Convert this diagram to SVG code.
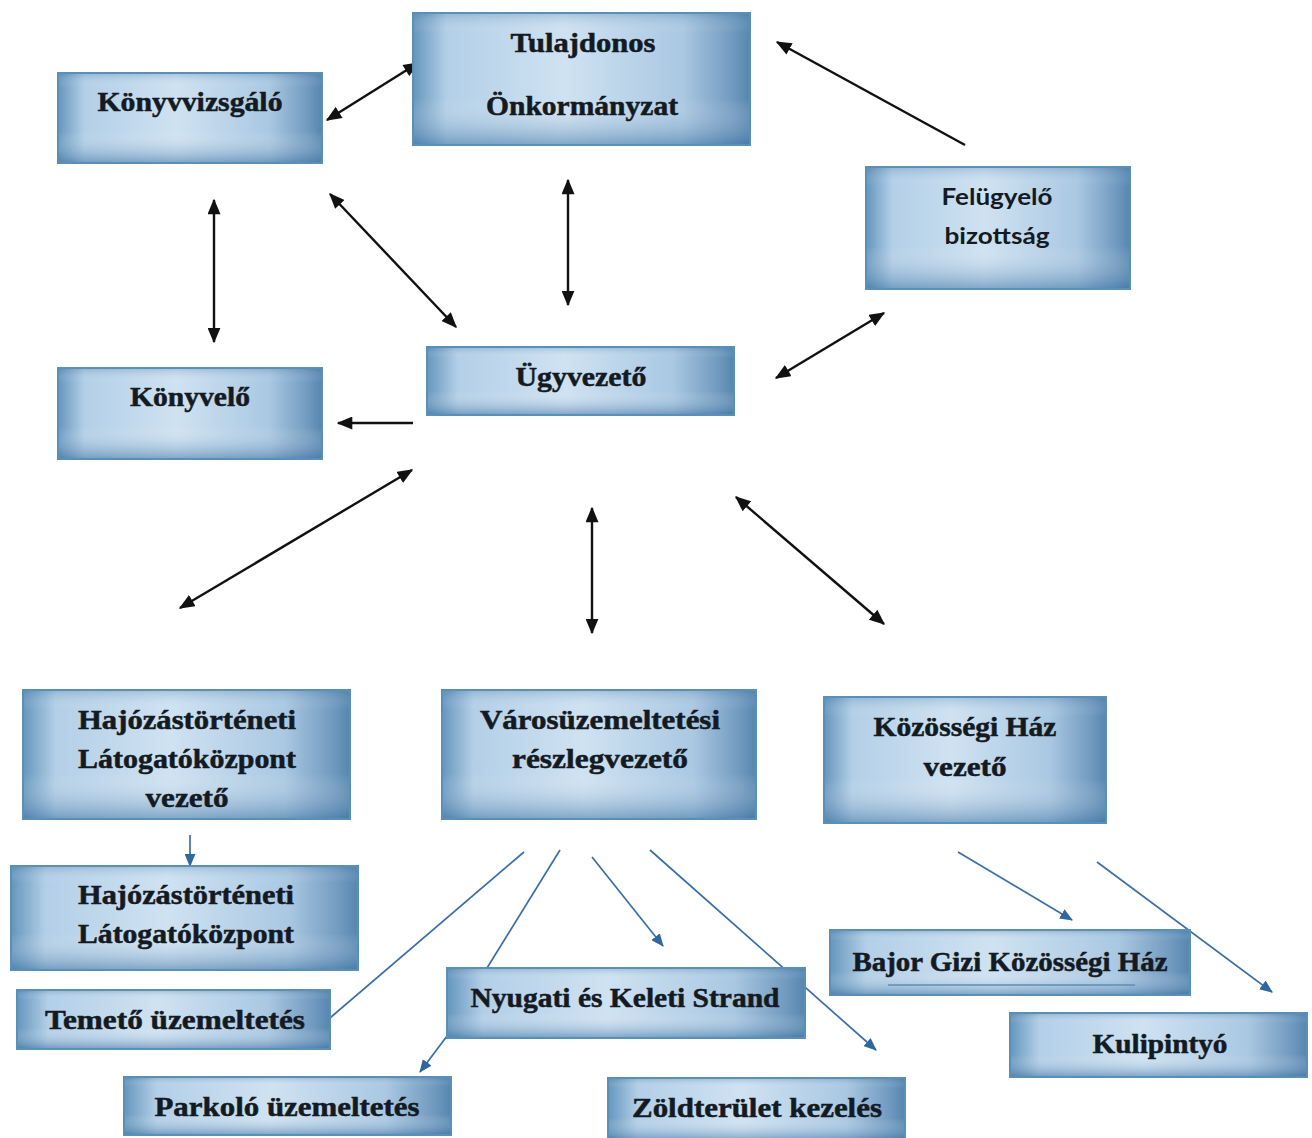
<svg xmlns="http://www.w3.org/2000/svg" width="1312" height="1138" viewBox="0 0 1312 1138">
<style>
.bx{stroke:#5a8fb8;stroke-width:2;fill:url(#gh)}
.sh{fill:url(#gv)}
.t{font-family:"Liberation Serif","DejaVu Serif",serif;font-weight:bold;font-size:27px;fill:#141a22;stroke:#141a22;stroke-width:0.5;text-anchor:middle}
.ts{font-family:Lato,"Open Sans","Liberation Sans",sans-serif;font-weight:bold;font-size:23px;fill:#141a22;text-anchor:middle}
.k{stroke:#111;stroke-width:2.4;fill:none}
.b{stroke:#3a6fa6;stroke-width:1.7;fill:none}
</style>
<defs>
<linearGradient id="gh" x1="0" y1="0" x2="1" y2="0">
<stop offset="0" stop-color="#6596bd"/>
<stop offset="0.1" stop-color="#b3cfe7"/>
<stop offset="0.45" stop-color="#cfe2f2"/>
<stop offset="0.8" stop-color="#aac8e2"/>
<stop offset="0.95" stop-color="#7099bf"/>
<stop offset="1" stop-color="#5586ae"/>
</linearGradient>
<linearGradient id="gv" x1="0" y1="0" x2="0" y2="1">
<stop offset="0" stop-color="#3f76a3" stop-opacity="0.25"/>
<stop offset="0.15" stop-color="#ffffff" stop-opacity="0"/>
<stop offset="0.65" stop-color="#ffffff" stop-opacity="0"/>
<stop offset="1" stop-color="#3a70a0" stop-opacity="0.5"/>
</linearGradient>
<marker id="ak" viewBox="0 0 12 10" refX="11" refY="5" markerWidth="16" markerHeight="13" markerUnits="userSpaceOnUse" orient="auto-start-reverse">
<path d="M0,0 L12,5 L0,10 z" fill="#111"/>
</marker>
<marker id="ab" viewBox="0 0 12 10" refX="11" refY="5" markerWidth="13" markerHeight="11" markerUnits="userSpaceOnUse" orient="auto">
<path d="M0,0 L12,5 L0,10 z" fill="#2f67a0"/>
</marker>
</defs>
<rect width="1312" height="1138" fill="#ffffff"/>
<g id="connectors">
<line class="k" x1="327" y1="120" x2="418" y2="63" marker-start="url(#ak)" marker-end="url(#ak)"/>
<line class="k" x1="965" y1="145" x2="777" y2="42" marker-end="url(#ak)"/>
<line class="k" x1="214" y1="200" x2="214" y2="342" marker-start="url(#ak)" marker-end="url(#ak)"/>
<line class="k" x1="330" y1="194" x2="456" y2="327" marker-start="url(#ak)" marker-end="url(#ak)"/>
<line class="k" x1="568" y1="180" x2="568" y2="305" marker-start="url(#ak)" marker-end="url(#ak)"/>
<line class="k" x1="776" y1="378" x2="884" y2="313" marker-start="url(#ak)" marker-end="url(#ak)"/>
<line class="k" x1="413" y1="423" x2="338" y2="423" marker-end="url(#ak)"/>
<line class="k" x1="412" y1="470" x2="180" y2="608" marker-start="url(#ak)" marker-end="url(#ak)"/>
<line class="k" x1="592" y1="508" x2="592" y2="633" marker-start="url(#ak)" marker-end="url(#ak)"/>
<line class="k" x1="736" y1="497" x2="884" y2="624" marker-start="url(#ak)" marker-end="url(#ak)"/>
<line class="b" x1="190" y1="835" x2="190" y2="866" marker-end="url(#ab)"/>
<line class="b" x1="524" y1="852" x2="330" y2="1018"/>
<line class="b" x1="560" y1="850" x2="487" y2="968"/>
<line class="b" x1="592" y1="857" x2="663" y2="946" marker-end="url(#ab)"/>
<line class="b" x1="650" y1="850" x2="876" y2="1050" marker-end="url(#ab)"/>
<line class="b" x1="447" y1="1036" x2="420" y2="1072" marker-end="url(#ab)"/>
<line class="b" x1="958" y1="852" x2="1072" y2="920" marker-end="url(#ab)"/>
<line class="b" x1="1097" y1="862" x2="1272" y2="992" marker-end="url(#ab)"/>
</g>
<g id="tulajdonos">
<rect class="bx" x="413" y="13" width="337" height="132"/><rect class="sh" x="414" y="14" width="335" height="130"/>
<text class="t" x="583" y="52" textLength="145" lengthAdjust="spacingAndGlyphs">Tulajdonos</text>
<text class="t" x="582" y="115" textLength="192" lengthAdjust="spacingAndGlyphs">Önkormányzat</text>
</g>
<g id="konyvvizsgalo">
<rect class="bx" x="58" y="73" width="264" height="90"/><rect class="sh" x="59" y="74" width="262" height="88"/>
<text class="t" x="190" y="111" textLength="185" lengthAdjust="spacingAndGlyphs">Könyvvizsgáló</text>
</g>
<g id="felugyelo">
<rect class="bx" x="866" y="167" width="264" height="122"/><rect class="sh" x="867" y="168" width="262" height="120"/>
<text class="ts" x="997" y="205" textLength="111" lengthAdjust="spacingAndGlyphs">Felügyelő</text>
<text class="ts" x="997" y="244" textLength="105" lengthAdjust="spacingAndGlyphs">bizottság</text>
</g>
<g id="ugyvezeto">
<rect class="bx" x="427" y="347" width="307" height="68"/><rect class="sh" x="428" y="348" width="305" height="66"/>
<text class="t" x="581" y="386" textLength="131" lengthAdjust="spacingAndGlyphs">Ügyvezető</text>
</g>
<g id="konyvelo">
<rect class="bx" x="58" y="368" width="264" height="91"/><rect class="sh" x="59" y="369" width="262" height="89"/>
<text class="t" x="190" y="406" textLength="120" lengthAdjust="spacingAndGlyphs">Könyvelő</text>
</g>
<g id="hajozas-vezeto">
<rect class="bx" x="23" y="690" width="327" height="129"/><rect class="sh" x="24" y="691" width="325" height="127"/>
<text class="t" x="187" y="729" textLength="218" lengthAdjust="spacingAndGlyphs">Hajózástörténeti</text>
<text class="t" x="187" y="768" textLength="218" lengthAdjust="spacingAndGlyphs">Látogatóközpont</text>
<text class="t" x="187" y="807" textLength="83" lengthAdjust="spacingAndGlyphs">vezető</text>
</g>
<g id="varosuzemeltetesi">
<rect class="bx" x="442" y="690" width="314" height="129"/><rect class="sh" x="443" y="691" width="312" height="127"/>
<text class="t" x="600" y="729" textLength="240" lengthAdjust="spacingAndGlyphs">Városüzemeltetési</text>
<text class="t" x="600" y="768" textLength="176" lengthAdjust="spacingAndGlyphs">részlegvezető</text>
</g>
<g id="kozossegi-haz-vezeto">
<rect class="bx" x="824" y="697" width="282" height="126"/><rect class="sh" x="825" y="698" width="280" height="124"/>
<text class="t" x="965" y="736" textLength="183" lengthAdjust="spacingAndGlyphs">Közösségi Ház</text>
<text class="t" x="965" y="776" textLength="83" lengthAdjust="spacingAndGlyphs">vezető</text>
</g>
<g id="hajozas">
<rect class="bx" x="11" y="866" width="347" height="104"/><rect class="sh" x="12" y="867" width="345" height="102"/>
<text class="t" x="186" y="904" textLength="216" lengthAdjust="spacingAndGlyphs">Hajózástörténeti</text>
<text class="t" x="186" y="943" textLength="216" lengthAdjust="spacingAndGlyphs">Látogatóközpont</text>
</g>
<g id="temeto">
<rect class="bx" x="17" y="990" width="313" height="59"/><rect class="sh" x="18" y="991" width="311" height="57"/>
<text class="t" x="175" y="1029" textLength="260" lengthAdjust="spacingAndGlyphs">Temető üzemeltetés</text>
</g>
<g id="strand">
<rect class="bx" x="447" y="968" width="358" height="70"/><rect class="sh" x="448" y="969" width="356" height="68"/>
<text class="t" x="625" y="1007" textLength="309" lengthAdjust="spacingAndGlyphs">Nyugati és Keleti Strand</text>
</g>
<g id="parkolo">
<rect class="bx" x="124" y="1077" width="327" height="58"/><rect class="sh" x="125" y="1078" width="325" height="56"/>
<text class="t" x="287" y="1116" textLength="265" lengthAdjust="spacingAndGlyphs">Parkoló üzemeltetés</text>
</g>
<g id="zoldterulet">
<rect class="bx" x="608" y="1078" width="297" height="62"/><rect class="sh" x="609" y="1079" width="295" height="60"/>
<text class="t" x="757" y="1117" textLength="250" lengthAdjust="spacingAndGlyphs">Zöldterület kezelés</text>
</g>
<g id="bajor-gizi">
<rect class="bx" x="830" y="930" width="360" height="65"/><rect class="sh" x="831" y="931" width="358" height="63"/>
<text class="t" x="1010" y="971" textLength="315" lengthAdjust="spacingAndGlyphs">Bajor Gizi Közösségi Ház</text>
<line x1="888" y1="985" x2="1135" y2="985" stroke="#5a8fb8" stroke-width="1.5"/>
</g>
<g id="kulipintyo">
<rect class="bx" x="1010" y="1013" width="297" height="64"/><rect class="sh" x="1011" y="1014" width="295" height="62"/>
<text class="t" x="1160" y="1053" textLength="135" lengthAdjust="spacingAndGlyphs">Kulipintyó</text>
</g>
</svg>
